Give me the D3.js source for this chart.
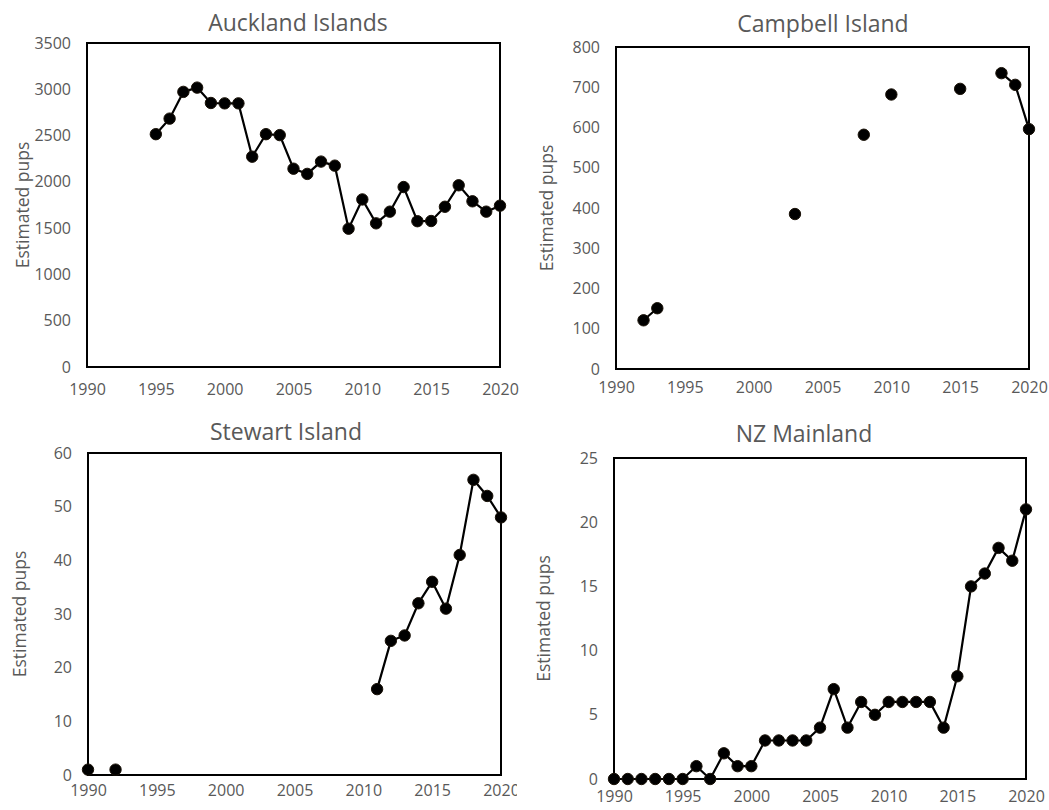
<!DOCTYPE html>
<html>
<head>
<meta charset="utf-8">
<script src="https://cdn.jsdelivr.net/npm/d3@7"></script>
<style>
  html, body { margin: 0; padding: 0; background: #ffffff; }
  svg { display: block; }
  text { font-family: "Open Sans", "Noto Sans", sans-serif; fill: #595959; }
</style>
</head>
<body>
<svg id="chart" width="1049" height="810"></svg>
<script>
// Estimated pup counts by breeding area (null = no survey that year)
const aucklandYears  = [1995, 1996, 1997, 1998, 1999, 2000, 2001, 2002, 2003, 2004, 2005, 2006, 2007,
                        2008, 2009, 2010, 2011, 2012, 2013, 2014, 2015, 2016, 2017, 2018, 2019, 2020];
const aucklandPups   = [2515, 2683, 2972, 3018, 2852, 2848, 2848, 2272, 2515, 2505, 2142, 2086, 2219,
                        2175, 1494, 1810, 1552, 1678, 1944, 1575, 1577, 1731, 1963, 1790, 1678, 1743];

const campbellYears  = [1992, 1993, 1994, 1995, 1996, 1997, 1998, 1999, 2000, 2001, 2002, 2003, 2004, 2005,
                        2006, 2007, 2008, 2009, 2010, 2011, 2012, 2013, 2014, 2015, 2016, 2017, 2018, 2019, 2020];
const campbellPups   = [121, 151, null, null, null, null, null, null, null, null, null, 385, null, null,
                        null, null, 582, null, 682, null, null, null, null, 696, null, null, 735, 706, 596];

const stewartYears   = [1990, 1991, 1992, 1993, 1994, 1995, 1996, 1997, 1998, 1999, 2000, 2001, 2002, 2003, 2004, 2005,
                        2006, 2007, 2008, 2009, 2010, 2011, 2012, 2013, 2014, 2015, 2016, 2017, 2018, 2019, 2020];
const stewartPups    = [1, null, 1, null, null, null, null, null, null, null, null, null, null, null, null, null,
                        null, null, null, null, null, 16, 25, 26, 32, 36, 31, 41, 55, 52, 48];

const mainlandYears  = [1990, 1991, 1992, 1993, 1994, 1995, 1996, 1997, 1998, 1999, 2000, 2001, 2002, 2003, 2004, 2005,
                        2006, 2007, 2008, 2009, 2010, 2011, 2012, 2013, 2014, 2015, 2016, 2017, 2018, 2019, 2020];
const mainlandPups   = [0, 0, 0, 0, 0, 0, 1, 0, 2, 1, 1, 3, 3, 3, 3, 4,
                        7, 4, 6, 5, 6, 6, 6, 6, 4, 8, 15, 16, 18, 17, 21];

const panelTitles = ["Auckland Islands", "Campbell Island", "Stewart Island", "NZ Mainland"];
const yMaxima     = [3500, 800, 60, 25];
const yStep       = [500, 100, 10, 5];
const xTickYears  = [1990, 1995, 2000, 2005, 2010, 2015, 2020];
const yAxisLabel  = "Estimated pups";

// Page layout of the four panels
const layout = [
  { x0: 87,  x1: 500,  y0: 43,  y1: 367, titleX: 298, titleY: 31,  labelX: 22,  xTickDy: 28, clip: null },
  { x0: 616, x1: 1029, y0: 47,  y1: 369, titleX: 823, titleY: 32,  labelX: 546, xTickDy: 24, clip: null },
  { x0: 88,  x1: 501,  y0: 453, y1: 775, titleX: 286, titleY: 440, labelX: 19,  xTickDy: 21, clip: 517 },
  { x0: 614, x1: 1026, y0: 458, y1: 779, titleX: 804, titleY: 442, labelX: 543, xTickDy: 23, clip: null }
];

const series = [
  { years: aucklandYears, pups: aucklandPups },
  { years: campbellYears, pups: campbellPups },
  { years: stewartYears,  pups: stewartPups },
  { years: mainlandYears, pups: mainlandPups }
];

const svg = d3.select("#chart");
const defs = svg.append("defs");

series.forEach((s, i) => {
  const L = layout[i];
  const g = svg.append("g");
  if (L.clip !== null) {
    defs.append("clipPath").attr("id", "clip" + i)
      .append("rect").attr("x", 0).attr("y", L.y0 - 60).attr("width", L.clip).attr("height", 500);
    g.attr("clip-path", `url(#clip${i})`);
  }

  const x = d3.scaleLinear().domain([1990, 2020]).range([L.x0, L.x1]);
  const y = d3.scaleLinear().domain([0, yMaxima[i]]).range([L.y1, L.y0]);
  const yTicks = d3.range(0, yMaxima[i] + yStep[i] / 2, yStep[i]);

  // Title
  g.append("text")
    .attr("x", L.titleX).attr("y", L.titleY)
    .attr("text-anchor", "middle")
    .style("font-size", "23px")
    .text(panelTitles[i]);

  // Y axis label
  g.append("text")
    .attr("transform", `translate(${L.labelX},${(L.y0 + L.y1) / 2}) rotate(-90)`)
    .attr("text-anchor", "middle")
    .attr("dominant-baseline", "central")
    .style("font-size", "17.5px")
    .text(yAxisLabel);

  // Axes (labels only, no tick marks)
  const yAxis = d3.axisLeft(y).tickValues(yTicks).tickSize(0).tickPadding(16).tickFormat(d3.format("d"));
  const yg = g.append("g").attr("transform", `translate(${L.x0},0)`).call(yAxis);
  yg.select(".domain").remove();
  yg.selectAll("text").style("font-size", "16px").attr("fill", null);

  const xAxis = d3.axisBottom(x).tickValues(xTickYears).tickSize(0).tickPadding(0).tickFormat(d3.format("d"));
  const xg = g.append("g").attr("transform", `translate(0,${L.y1})`).call(xAxis);
  xg.select(".domain").remove();
  xg.selectAll("text").style("font-size", "16px").attr("fill", null)
    .attr("dy", null).attr("y", L.xTickDy);

  // Plot frame
  g.append("rect")
    .attr("x", L.x0).attr("y", L.y0)
    .attr("width", L.x1 - L.x0).attr("height", L.y1 - L.y0)
    .attr("fill", "none").attr("stroke", "#000").attr("stroke-width", 2);

  const pts = s.years.map((yr, k) => ({ year: yr, v: s.pups[k] }));

  const line = d3.line()
    .defined(d => d.v !== null)
    .x(d => x(d.year))
    .y(d => y(d.v));

  g.append("path")
    .datum(pts)
    .attr("d", line)
    .attr("fill", "none")
    .attr("stroke", "#000")
    .attr("stroke-width", 2.2);

  g.selectAll("circle.pt")
    .data(pts.filter(d => d.v !== null))
    .join("circle")
    .attr("class", "pt")
    .attr("cx", d => x(d.year))
    .attr("cy", d => y(d.v))
    .attr("r", 5.7)
    .attr("fill", "#000")
    .attr("stroke", "#1a1208")
    .attr("stroke-width", 1);
});
</script>
</body>
</html>
